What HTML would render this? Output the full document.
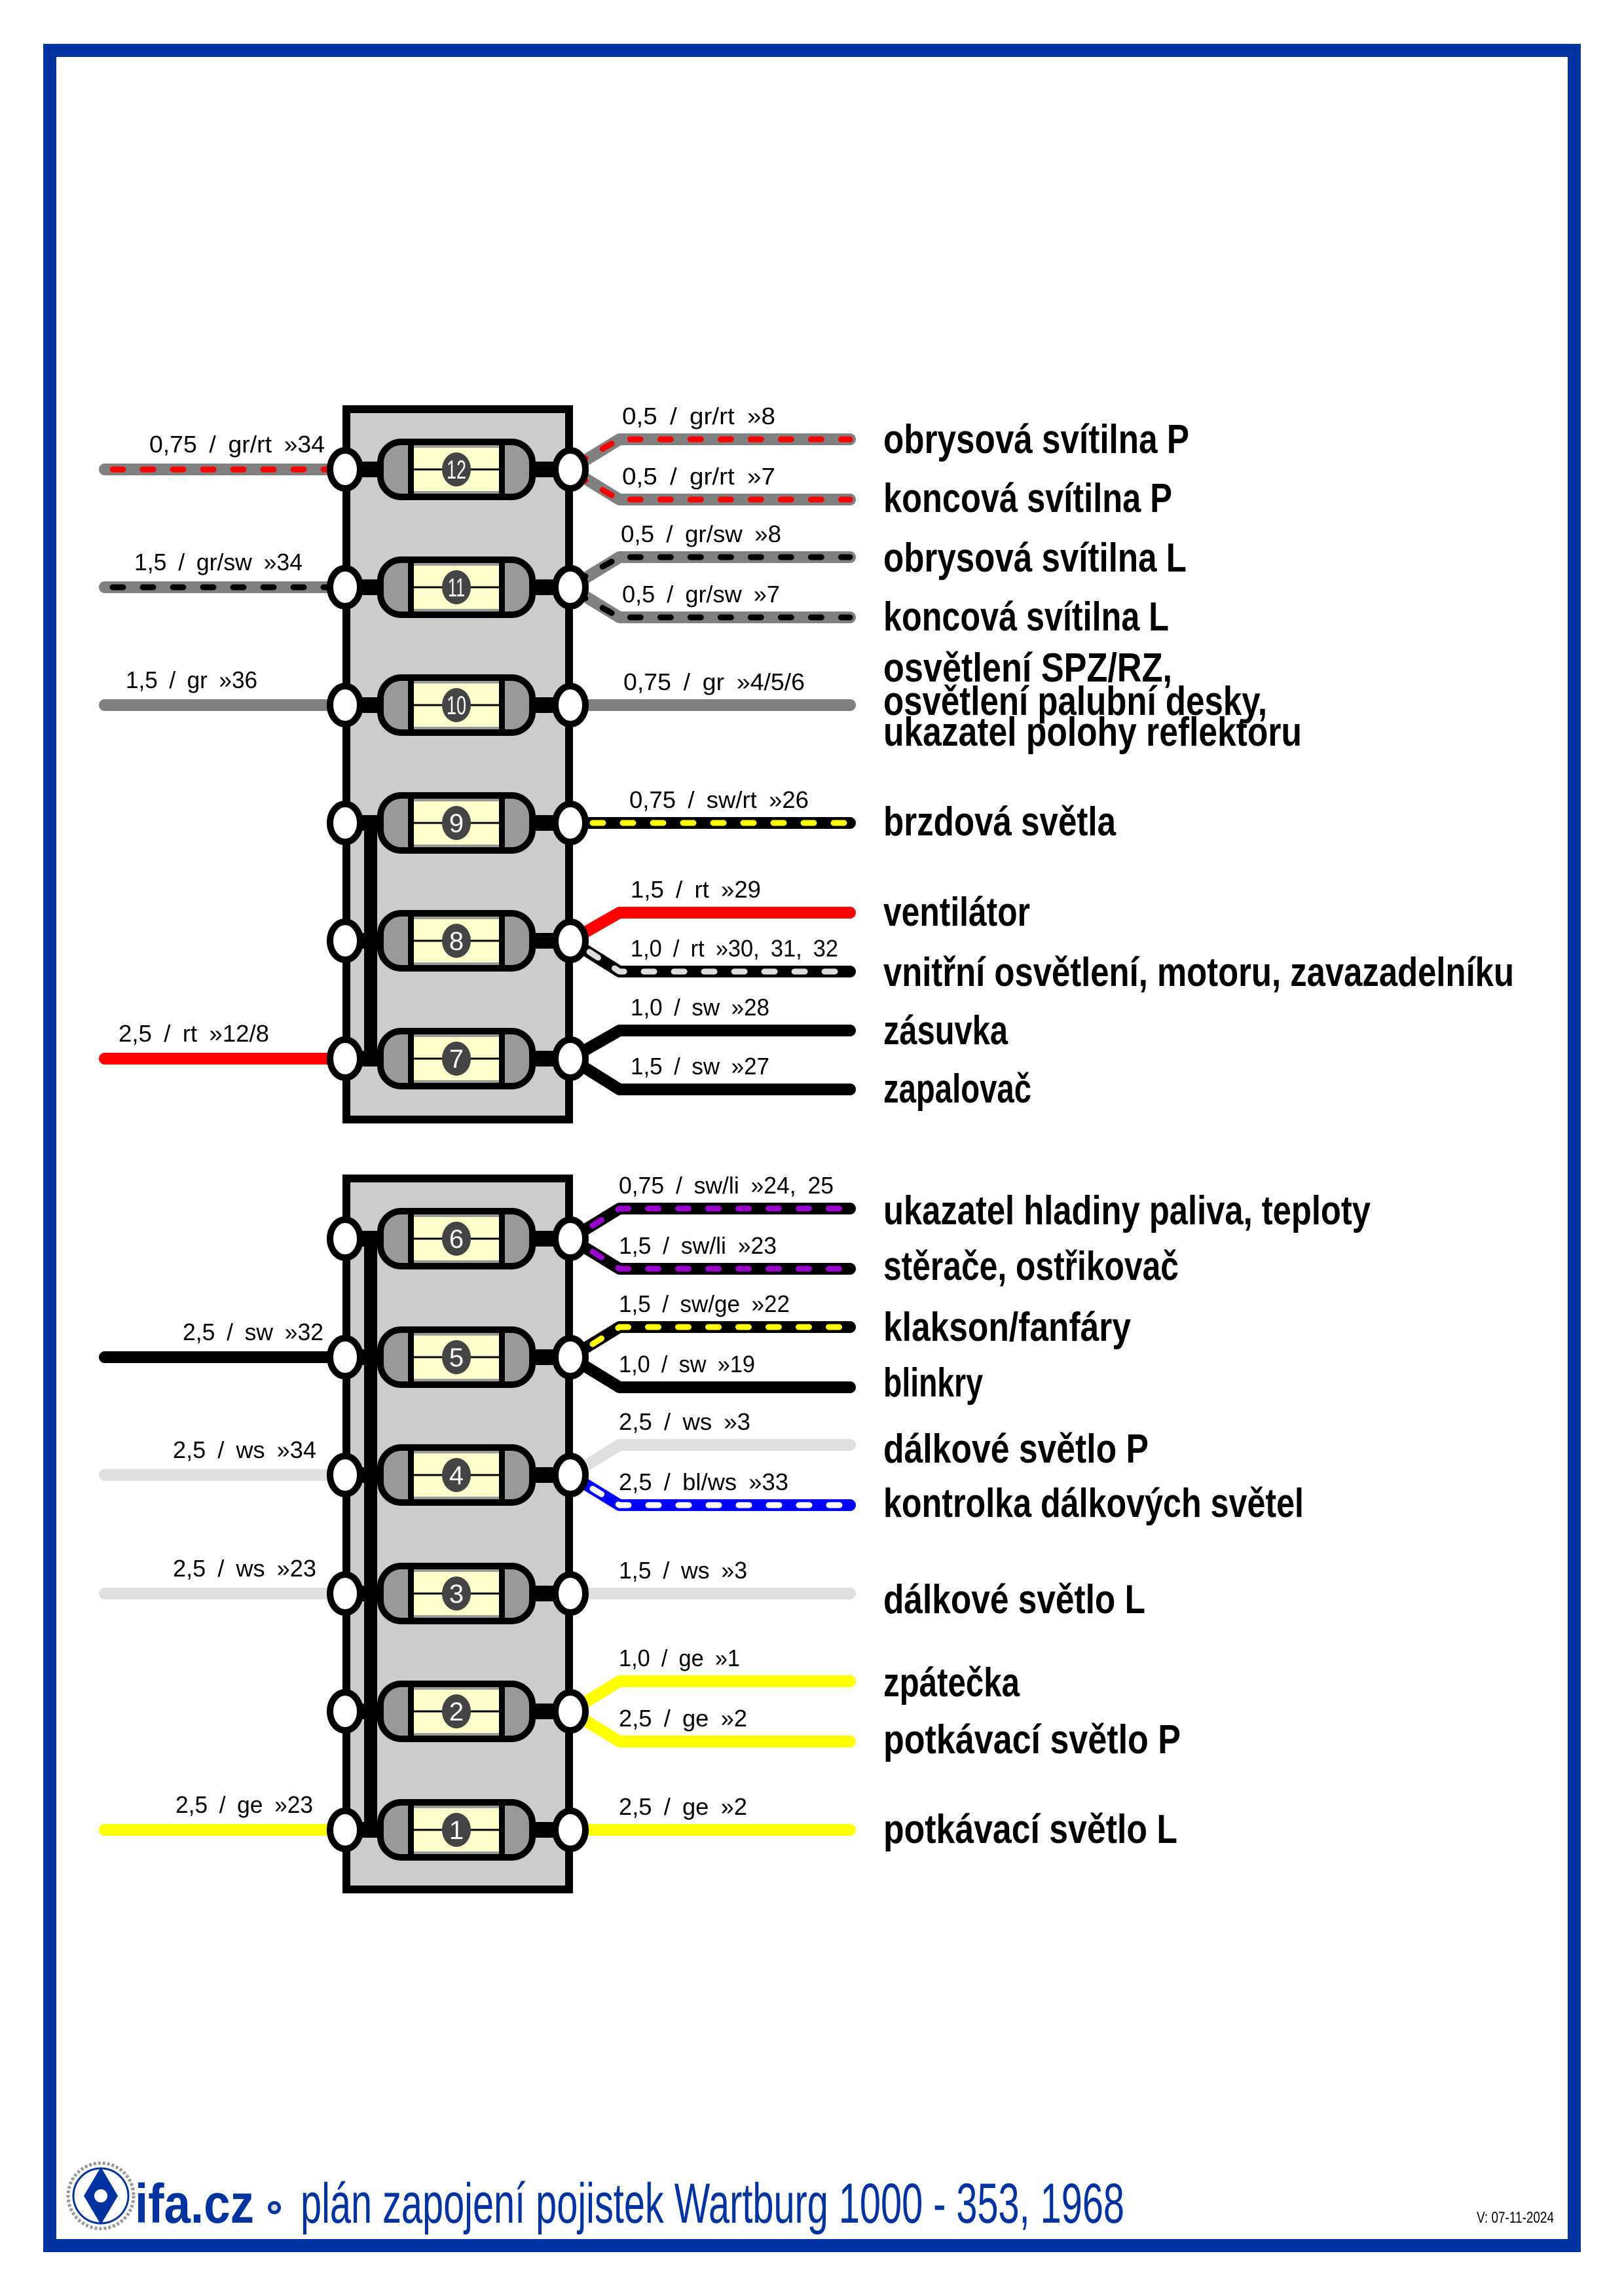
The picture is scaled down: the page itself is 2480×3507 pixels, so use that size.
<!DOCTYPE html>
<html><head><meta charset="utf-8"><style>
html,body{margin:0;padding:0;background:#fff}
svg{display:block}
.b{fill:none;stroke-width:18;stroke-linecap:round;stroke-linejoin:round}
.d{fill:none;stroke-width:9;stroke-dasharray:16 30;stroke-linecap:round;stroke-linejoin:round}
.s{font-family:"Liberation Sans Narrow","Liberation Sans",sans-serif;font-size:36px;fill:#000}
.L{font-family:"Liberation Sans Narrow","Liberation Sans",sans-serif;font-size:62px;font-weight:bold;fill:#000}
.n{font-family:"Liberation Sans Narrow","Liberation Sans",sans-serif;font-size:40px;fill:#fff;text-anchor:middle}
</style></head><body>
<svg width="2480" height="3507" viewBox="0 0 2480 3507" xmlns="http://www.w3.org/2000/svg">
<defs>
<g id="f">
<rect x="-170" y="-12" width="344" height="24" fill="#000"/>
<rect x="-116" y="-42" width="232" height="84" rx="32" fill="#999" stroke="#000" stroke-width="10"/>
<rect x="-70" y="-33" width="140" height="66" fill="#ffffcc"/>
<rect x="-74" y="-42" width="9" height="84" fill="#000"/>
<rect x="65" y="-42" width="9" height="84" fill="#000"/>
<line x1="-70" x2="70" y1="0" y2="0" stroke="#000" stroke-width="3"/>
<ellipse cx="0" cy="0" rx="22" ry="26" fill="#444"/>
<ellipse cx="-170" cy="0" rx="23" ry="29" fill="#fff" stroke="#000" stroke-width="10"/>
<ellipse cx="174" cy="0" rx="23" ry="29" fill="#fff" stroke="#000" stroke-width="10"/>
</g>
</defs>

<!-- frame -->
<rect x="76" y="77" width="2328" height="3353" fill="none" stroke="#0033a0" stroke-width="20"/>

<!-- boxes -->
<rect x="529" y="625" width="340" height="1085" fill="#ccc" stroke="#000" stroke-width="12"/>
<rect x="529" y="1800" width="340" height="1086" fill="#ccc" stroke="#000" stroke-width="12"/>

<!-- LEFT WIRES -->
<path class="b" stroke="#808080" d="M160 717H527"/><path class="d" stroke="#f00" d="M172 717H520"/>
<path class="b" stroke="#808080" d="M160 897H527"/><path class="d" stroke="#000" d="M172 897H520"/>
<path class="b" stroke="#808080" d="M160 1077H527"/>
<path class="b" stroke="#f00" d="M160 1617H527"/>
<path class="b" stroke="#000" d="M160 2073H527"/>
<path class="b" stroke="#e0e0e0" d="M160 2253H527"/>
<path class="b" stroke="#e0e0e0" d="M160 2434H527"/>
<path class="b" stroke="#ffff00" d="M160 2795H527"/>

<!-- RIGHT WIRES -->
<path class="b" stroke="#808080" d="M871 717L946 671H1298"/><path class="d" stroke="#f00" d="M880 708L946 671H1298"/>
<path class="b" stroke="#808080" d="M871 717L946 763H1298"/><path class="d" stroke="#f00" d="M880 726L946 763H1298"/>
<path class="b" stroke="#808080" d="M871 897L946 851H1298"/><path class="d" stroke="#000" d="M880 888L946 851H1298"/>
<path class="b" stroke="#808080" d="M871 897L946 943H1298"/><path class="d" stroke="#000" d="M880 906L946 943H1298"/>
<path class="b" stroke="#808080" d="M871 1077H1298"/>
<path class="b" stroke="#000" d="M871 1257H1298"/><path class="d" stroke="#ffff00" d="M905 1257H1298"/>
<path class="b" stroke="#f00" d="M871 1437L946 1394H1298"/>
<path class="b" stroke="#000" d="M871 1437L946 1484H1298"/><path class="d" stroke="#ddd" d="M900 1454L946 1484H1298"/>
<path class="b" stroke="#000" d="M871 1617L946 1574H1298"/>
<path class="b" stroke="#000" d="M871 1617L946 1664H1298"/>

<path class="b" stroke="#000" d="M871 1892L946 1846H1298"/><path class="d" stroke="#9900cc" d="M905 1872L946 1846H1298"/>
<path class="b" stroke="#000" d="M871 1892L946 1938H1298"/><path class="d" stroke="#9900cc" d="M905 1912L946 1938H1298"/>
<path class="b" stroke="#000" d="M871 2073L946 2027H1298"/><path class="d" stroke="#ffff00" d="M905 2053L946 2027H1298"/>
<path class="b" stroke="#000" d="M871 2073L946 2119H1298"/>
<path class="b" stroke="#e0e0e0" d="M871 2253L946 2207H1298"/>
<path class="b" stroke="#0000ff" d="M871 2253L946 2299H1298"/><path class="d" stroke="#fff" d="M905 2274L946 2299H1298"/>
<path class="b" stroke="#e0e0e0" d="M871 2434H1298"/>
<path class="b" stroke="#ffff00" d="M871 2614L946 2568H1298"/>
<path class="b" stroke="#ffff00" d="M871 2614L946 2660H1298"/>
<path class="b" stroke="#ffff00" d="M871 2795H1298"/>

<!-- bus bars -->
<rect x="556" y="1257" width="20" height="360" fill="#000"/>
<rect x="556" y="1892" width="20" height="903" fill="#000"/>

<!-- fuses -->
<use href="#f" x="697" y="717"/><text class="n" x="697" y="731" textLength="30" lengthAdjust="spacingAndGlyphs">12</text>
<use href="#f" x="697" y="897"/><text class="n" x="697" y="911" textLength="26" lengthAdjust="spacingAndGlyphs">11</text>
<use href="#f" x="697" y="1077"/><text class="n" x="697" y="1091" textLength="30" lengthAdjust="spacingAndGlyphs">10</text>
<use href="#f" x="697" y="1257"/><text class="n" x="697" y="1271">9</text>
<use href="#f" x="697" y="1437"/><text class="n" x="697" y="1451">8</text>
<use href="#f" x="697" y="1617"/><text class="n" x="697" y="1631">7</text>
<use href="#f" x="697" y="1892"/><text class="n" x="697" y="1906">6</text>
<use href="#f" x="697" y="2073"/><text class="n" x="697" y="2087">5</text>
<use href="#f" x="697" y="2253"/><text class="n" x="697" y="2267">4</text>
<use href="#f" x="697" y="2434"/><text class="n" x="697" y="2448">3</text>
<use href="#f" x="697" y="2614"/><text class="n" x="697" y="2628">2</text>
<use href="#f" x="697" y="2795"/><text class="n" x="697" y="2809">1</text>

<!-- left labels -->
<g class="s" style="word-spacing:8px">
<text x="228" y="691" textLength="268" lengthAdjust="spacingAndGlyphs">0,75 / gr/rt »34</text>
<text x="205" y="871" textLength="257" lengthAdjust="spacingAndGlyphs">1,5 / gr/sw »34</text>
<text x="192" y="1051" textLength="201" lengthAdjust="spacingAndGlyphs">1,5 / gr »36</text>
<text x="181" y="1591" textLength="230" lengthAdjust="spacingAndGlyphs">2,5 / rt »12/8</text>
<text x="279" y="2047" textLength="215" lengthAdjust="spacingAndGlyphs">2,5 / sw »32</text>
<text x="264" y="2227" textLength="219" lengthAdjust="spacingAndGlyphs">2,5 / ws »34</text>
<text x="264" y="2408" textLength="219" lengthAdjust="spacingAndGlyphs">2,5 / ws »23</text>
<text x="268" y="2769" textLength="210" lengthAdjust="spacingAndGlyphs">2,5 / ge »23</text>

<!-- right labels -->
<text x="950" y="648" textLength="234" lengthAdjust="spacingAndGlyphs">0,5 / gr/rt »8</text>
<text x="950" y="740" textLength="234" lengthAdjust="spacingAndGlyphs">0,5 / gr/rt »7</text>
<text x="948" y="828" textLength="245" lengthAdjust="spacingAndGlyphs">0,5 / gr/sw »8</text>
<text x="950" y="920" textLength="241" lengthAdjust="spacingAndGlyphs">0,5 / gr/sw »7</text>
<text x="952" y="1054" textLength="277" lengthAdjust="spacingAndGlyphs">0,75 / gr »4/5/6</text>
<text x="961" y="1234" textLength="274" lengthAdjust="spacingAndGlyphs">0,75 / sw/rt »26</text>
<text x="963" y="1371" textLength="199" lengthAdjust="spacingAndGlyphs">1,5 / rt »29</text>
<text x="963" y="1461" textLength="317" lengthAdjust="spacingAndGlyphs">1,0 / rt »30, 31, 32</text>
<text x="963" y="1551" textLength="212" lengthAdjust="spacingAndGlyphs">1,0 / sw »28</text>
<text x="963" y="1641" textLength="212" lengthAdjust="spacingAndGlyphs">1,5 / sw »27</text>
<text x="945" y="1823" textLength="328" lengthAdjust="spacingAndGlyphs">0,75 / sw/li »24, 25</text>
<text x="945" y="1915" textLength="241" lengthAdjust="spacingAndGlyphs">1,5 / sw/li »23</text>
<text x="945" y="2004" textLength="261" lengthAdjust="spacingAndGlyphs">1,5 / sw/ge »22</text>
<text x="945" y="2096" textLength="208" lengthAdjust="spacingAndGlyphs">1,0 / sw »19</text>
<text x="945" y="2184" textLength="201" lengthAdjust="spacingAndGlyphs">2,5 / ws »3</text>
<text x="945" y="2276" textLength="259" lengthAdjust="spacingAndGlyphs">2,5 / bl/ws »33</text>
<text x="945" y="2411" textLength="196" lengthAdjust="spacingAndGlyphs">1,5 / ws »3</text>
<text x="945" y="2545" textLength="185" lengthAdjust="spacingAndGlyphs">1,0 / ge »1</text>
<text x="945" y="2637" textLength="196" lengthAdjust="spacingAndGlyphs">2,5 / ge »2</text>
<text x="945" y="2772" textLength="196" lengthAdjust="spacingAndGlyphs">2,5 / ge »2</text>
</g>

<!-- descriptions -->
<g class="L">
<text x="1349" y="692" textLength="467" lengthAdjust="spacingAndGlyphs">obrysová svítilna P</text>
<text x="1349" y="782" textLength="441" lengthAdjust="spacingAndGlyphs">koncová svítilna P</text>
<text x="1349" y="873" textLength="463" lengthAdjust="spacingAndGlyphs">obrysová svítilna L</text>
<text x="1349" y="963" textLength="436" lengthAdjust="spacingAndGlyphs">koncová svítilna L</text>
<text x="1349" y="1041" textLength="441" lengthAdjust="spacingAndGlyphs">osvětlení SPZ/RZ,</text>
<text x="1349" y="1092" textLength="586" lengthAdjust="spacingAndGlyphs">osvětlení palubní desky,</text>
<text x="1349" y="1139" textLength="639" lengthAdjust="spacingAndGlyphs">ukazatel polohy reflektoru</text>
<text x="1349" y="1276" textLength="355" lengthAdjust="spacingAndGlyphs">brzdová světla</text>
<text x="1349" y="1414" textLength="224" lengthAdjust="spacingAndGlyphs">ventilátor</text>
<text x="1349" y="1506" textLength="963" lengthAdjust="spacingAndGlyphs">vnitřní osvětlení, motoru, zavazadelníku</text>
<text x="1349" y="1595" textLength="190" lengthAdjust="spacingAndGlyphs">zásuvka</text>
<text x="1349" y="1684" textLength="226" lengthAdjust="spacingAndGlyphs">zapalovač</text>
<text x="1349" y="1870" textLength="744" lengthAdjust="spacingAndGlyphs">ukazatel hladiny paliva, teploty</text>
<text x="1349" y="1955" textLength="451" lengthAdjust="spacingAndGlyphs">stěrače, ostřikovač</text>
<text x="1349" y="2048" textLength="378" lengthAdjust="spacingAndGlyphs">klakson/fanfáry</text>
<text x="1349" y="2133" textLength="152" lengthAdjust="spacingAndGlyphs">blinkry</text>
<text x="1349" y="2234" textLength="405" lengthAdjust="spacingAndGlyphs">dálkové světlo P</text>
<text x="1349" y="2317" textLength="642" lengthAdjust="spacingAndGlyphs">kontrolka dálkových světel</text>
<text x="1349" y="2464" textLength="400" lengthAdjust="spacingAndGlyphs">dálkové světlo L</text>
<text x="1349" y="2591" textLength="208" lengthAdjust="spacingAndGlyphs">zpátečka</text>
<text x="1349" y="2678" textLength="454" lengthAdjust="spacingAndGlyphs">potkávací světlo P</text>
<text x="1349" y="2815" textLength="449" lengthAdjust="spacingAndGlyphs">potkávací světlo L</text>
</g>

<!-- footer -->
<g>
<circle cx="154" cy="3354" r="50" fill="#fff" stroke="#999" stroke-width="5" stroke-dasharray="4 3"/>
<circle cx="154" cy="3354" r="42" fill="#fff" stroke="#0033a0" stroke-width="3"/>
<polygon points="154,3310 180,3354 154,3398 128,3354" fill="#0033a0"/>
<circle cx="154" cy="3354" r="11" fill="#fff" stroke="#0033a0" stroke-width="2"/>
<text x="206" y="3395" font-family="'Liberation Sans Narrow','Liberation Sans',sans-serif" font-weight="bold" font-size="84" fill="#0033a0" textLength="182" lengthAdjust="spacingAndGlyphs">ifa.cz</text>
<circle cx="419" cy="3372" r="10" fill="#0033a0"/>
<circle cx="419" cy="3372" r="5" fill="#ddd"/>
<text x="459" y="3395" font-family="'Liberation Sans Narrow','Liberation Sans',sans-serif" font-size="86" fill="#0033a0" textLength="1258" lengthAdjust="spacingAndGlyphs">plán zapojení pojistek Wartburg 1000 - 353, 1968</text>
<text x="2255" y="3395" font-family="'Liberation Sans Narrow','Liberation Sans',sans-serif" font-size="24" fill="#000" textLength="118" lengthAdjust="spacingAndGlyphs">V: 07-11-2024</text>
</g>
</svg>
</body></html>
